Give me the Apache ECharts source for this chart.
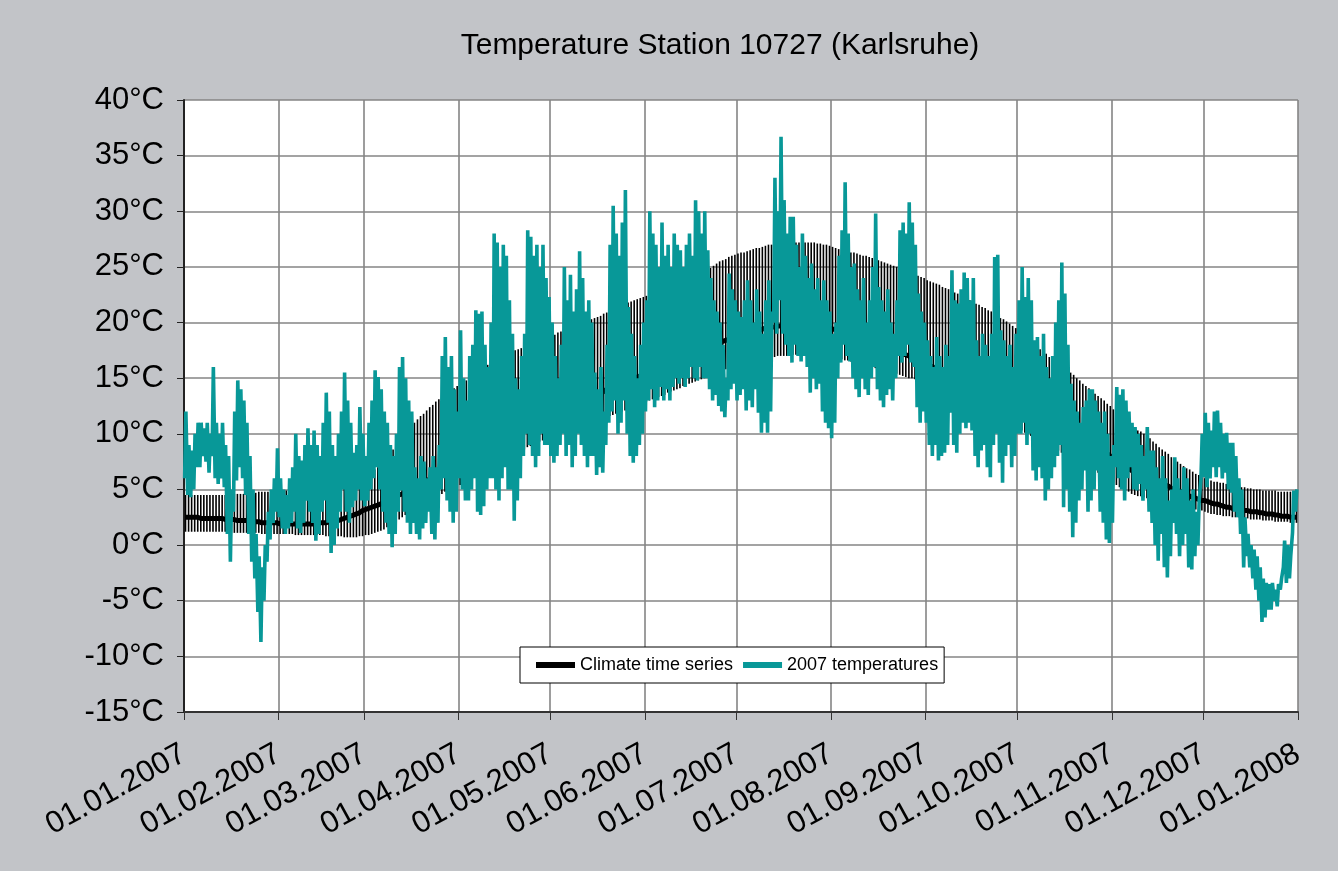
<!DOCTYPE html>
<html>
<head>
<meta charset="utf-8">
<script src="https://cdn.jsdelivr.net/npm/echarts@6/dist/echarts.min.js"></script>
<style>
html,body{margin:0;padding:0;background:#c2c4c8;}
#chart{width:1338px;height:871px;}
</style>
</head>
<body>
<div id="chart"></div>
<script>
// ---- tick labels (x axis: month starts, day index from 01.01.2007) ----
const monthLabels = ['01.01.2007','01.02.2007','01.03.2007','01.04.2007','01.05.2007','01.06.2007','01.07.2007','01.08.2007','01.09.2007','01.10.2007','01.11.2007','01.12.2007','01.01.2008'];
const monthStartDays = [0,31,59,90,120,151,181,212,243,273,304,334,365];

// ---- climate time series: daily mean, upper and lower bound (°C), day 0 = 01.01.2007 ----
const climateMean = [
2.5,2.5,2.5,2.5,2.5, 2.4,2.4,2.4,2.4,2.4, 2.4,2.4,2.4,2.3,2.3, 2.3,2.3,2.2,2.2,2.2,
2.2,2.1,2.1,2.1,2.1, 2.0,2.0,2.0,2.0,2.0, 2.0,1.9,1.9,1.9,1.9, 1.9,1.9,1.9,1.9,1.9,
1.9,1.9,1.9,2.0,2.0, 2.0,2.0,2.1,2.1,2.2, 2.2,2.3,2.4,2.5,2.6, 2.7,2.8,2.9,3.1,3.2,
3.3,3.4,3.5,3.6,3.7, 3.8,3.9,4.1,4.2,4.4, 4.5,4.6,4.8,4.9,5.1, 5.2,5.3,5.5,5.6,5.8,
5.9,6.0,6.1,6.3,6.4, 6.5,6.6,6.8,6.9,7.1, 7.2,7.5,7.7,8.0,8.2, 8.5,8.8,9.0,9.3,9.5,
9.8,9.9,10.0,10.2,10.3, 10.4,10.5,10.6,10.8,10.9, 11.0,11.1,11.2,11.2,11.3, 11.4,11.5,11.6,11.8,11.9,
12.0,12.1,12.2,12.4,12.5, 12.6,12.7,12.8,12.9,13.0, 13.1,13.2,13.3,13.4,13.5, 13.6,13.7,13.8,14.0,14.1,
14.2,14.3,14.4,14.6,14.7, 14.8,14.9,15.0,15.1,15.2, 15.3,15.4,15.5,15.7,15.8, 15.9,16.0,16.1,16.3,16.4,
16.5,16.6,16.7,16.8,16.9, 17.0,17.1,17.2,17.4,17.5, 17.6,17.7,17.8,18.0,18.1, 18.2,18.3,18.4,18.5,18.6,
18.7,18.8,18.9,18.9,19.0, 19.1,19.2,19.3,19.3,19.4, 19.5,19.5,19.6,19.6,19.7, 19.7,19.7,19.8,19.8,19.9,
19.9,19.9,19.9,19.9,19.9, 19.9,19.8,19.8,19.7,19.7, 19.6,19.5,19.4,19.4,19.3, 19.2,19.1,19.0,18.9,18.8,
18.7,18.6,18.5,18.4,18.3, 18.2,18.1,18.0,17.9,17.8, 17.7,17.6,17.5,17.4,17.3, 17.2,17.1,17.0,16.8,16.7,
16.6,16.5,16.4,16.2,16.1, 16.0,15.9,15.8,15.6,15.5, 15.4,15.3,15.2,15.0,14.9, 14.8,14.7,14.6,14.4,14.3,
14.2,14.1,13.9,13.8,13.6, 13.5,13.4,13.2,13.1,12.9, 12.8,12.6,12.5,12.3,12.2, 12.0,11.9,11.7,11.6,11.4,
11.3,11.2,11.0,10.9,10.7, 10.6,10.5,10.3,10.2,10.0, 9.9,9.8,9.7,9.5,9.4, 9.3,9.2,9.0,8.9,8.7,
8.6,8.4,8.2,8.0,7.8, 7.5,7.3,7.2,7.0,6.9, 6.7,6.6,6.4,6.2,6.1, 5.9,5.8,5.7,5.6,5.6,
5.5,5.4,5.3,5.1,5.0, 4.9,4.8,4.7,4.5,4.4, 4.3,4.2,4.1,4.0,4.0, 3.9,3.8,3.7,3.7,3.6,
3.5,3.4,3.4,3.3,3.3, 3.2,3.2,3.1,3.1,3.0, 3.0,3.0,2.9,2.9,2.8, 2.8,2.8,2.7,2.7,2.6,
2.6,2.6,2.5,2.5,2.5];
const climateUpper = [
4.5,4.5,4.5,4.5,4.5, 4.5,4.5,4.5,4.5,4.5, 4.5,4.5,4.5,4.5,4.6, 4.6,4.6,4.6,4.6,4.6,
4.6,4.6,4.7,4.7,4.8, 4.8,4.8,4.8,4.9,4.9, 4.9,4.9,4.9,4.9,5.0, 5.0,5.0,5.0,5.0,5.0,
5.0,5.0,5.0,5.0,5.1, 5.1,5.1,5.1,5.1,5.1, 5.1,5.3,5.5,5.7,5.9, 6.0,6.1,6.2,6.3,6.3,
6.4,6.6,6.8,7.0,7.2, 7.5,7.9,8.2,8.6,8.9, 9.3,9.6,10.0,10.3,10.7, 11.0,11.3,11.6,11.8,12.1,
12.4,12.6,12.9,13.1,13.4, 13.6,13.8,14.0,14.1,14.3, 14.5,14.7,14.8,15.0,15.1, 15.3,15.5,15.7,16.0,16.2,
16.4,16.5,16.7,16.8,17.0, 17.1,17.2,17.3,17.5,17.6, 17.7,17.8,17.9,18.0,18.1, 18.2,18.3,18.4,18.6,18.7,
18.8,18.9,19.1,19.2,19.4, 19.5,19.6,19.7,19.8,19.9, 20.0,20.1,20.2,20.3,20.4, 20.5,20.6,20.8,20.9,21.1,
21.2,21.3,21.5,21.6,21.7, 21.8,21.9,22.0,22.1,22.2, 22.3,22.4,22.5,22.7,22.8, 22.9,23.0,23.1,23.2,23.3,
23.4,23.5,23.6,23.7,23.8, 23.9,24.0,24.1,24.3,24.4, 24.5,24.7,24.9,25.1,25.3, 25.5,25.6,25.7,25.9,26.0,
26.1,26.2,26.3,26.3,26.4, 26.5,26.6,26.7,26.7,26.8, 26.9,27.0,27.0,27.1,27.1, 27.2,27.2,27.2,27.2,27.2,
27.2,27.2,27.2,27.2,27.2, 27.2,27.2,27.1,27.1,27.0, 27.0,26.9,26.8,26.7,26.6, 26.5,26.4,26.4,26.3,26.3,
26.2,26.1,26.0,26.0,25.9, 25.8,25.7,25.6,25.5,25.4, 25.3,25.2,25.1,25.0,24.9, 24.8,24.7,24.6,24.4,24.3,
24.2,24.1,24.0,23.8,23.7, 23.6,23.5,23.4,23.2,23.1, 23.0,22.9,22.7,22.6,22.4, 22.3,22.2,22.0,21.9,21.7,
21.6,21.4,21.3,21.1,21.0, 20.8,20.6,20.4,20.3,20.1, 19.9,19.7,19.5,19.2,19.0, 18.8,18.6,18.3,18.1,17.8,
17.6,17.4,17.2,16.9,16.7, 16.5,16.3,16.1,15.9,15.7, 15.5,15.3,15.0,14.8,14.5, 14.3,14.1,13.9,13.6,13.4,
13.2,13.0,12.7,12.5,12.2, 12.0,11.7,11.5,11.2,11.0, 10.7,10.5,10.3,10.2,10.0, 9.8,9.6,9.3,9.1,8.8,
8.6,8.4,8.2,7.9,7.7, 7.5,7.3,7.1,6.9,6.8, 6.6,6.4,6.3,6.1,6.0, 5.8,5.8,5.7,5.7,5.6,
5.6,5.5,5.5,5.4,5.4, 5.3,5.2,5.2,5.1,5.1, 5.0,5.0,5.0,4.9,4.9, 4.9,4.9,4.9,4.8,4.8,
4.8,4.8,4.8,4.8,4.8];
const climateLower = [
1.2,1.2,1.2,1.2,1.2, 1.2,1.2,1.2,1.2,1.2, 1.2,1.2,1.2,1.2,1.2, 1.1,1.1,1.1,1.1,1.1,
1.1,1.1,1.1,1.1,1.1, 1.0,1.0,1.0,1.0,1.0, 1.0,1.0,1.0,1.0,1.0, 1.0,0.9,0.9,0.9,0.9,
0.9,0.9,0.9,0.9,0.9, 0.9,0.8,0.8,0.8,0.8, 0.8,0.8,0.7,0.7,0.7, 0.7,0.7,0.8,0.8,0.9,
0.9,1.0,1.1,1.2,1.3, 1.4,1.6,1.8,1.9,2.1, 2.3,2.5,2.7,2.9,3.1, 3.3,3.4,3.6,3.7,3.9,
4.0,4.2,4.3,4.5,4.6, 4.8,4.9,5.0,5.2,5.3, 5.4,5.6,5.7,5.9,6.0, 6.2,6.3,6.5,6.6,6.8,
6.9,7.0,7.2,7.3,7.5, 7.6,7.8,8.0,8.1,8.3, 8.5,8.6,8.8,8.9,9.1, 9.2,9.3,9.4,9.5,9.6,
9.7,9.8,9.9,10.0,10.1, 10.2,10.3,10.5,10.6,10.7, 10.8,10.9,11.0,11.1,11.2, 11.3,11.4,11.5,11.5,11.6,
11.7,11.8,11.9,12.0,12.1, 12.2,12.3,12.4,12.6,12.7, 12.8,12.9,13.0,13.1,13.2, 13.3,13.4,13.5,13.7,13.8,
13.9,14.0,14.1,14.3,14.4, 14.5,14.6,14.7,14.8,14.9, 15.0,15.1,15.2,15.4,15.5, 15.6,15.7,15.8,15.9,16.0,
16.1,16.2,16.3,16.3,16.4, 16.5,16.6,16.6,16.7,16.7, 16.8,16.8,16.9,16.9,17.0, 17.0,17.0,17.0,17.1,17.1,
17.1,17.1,17.1,17.1,17.1, 17.1,17.1,17.1,17.0,17.0, 17.0,16.9,16.9,16.8,16.8, 16.7,16.6,16.6,16.5,16.5,
16.4,16.3,16.2,16.2,16.1, 16.0,15.9,15.8,15.8,15.7, 15.6,15.5,15.4,15.4,15.3, 15.2,15.1,15.0,15.0,14.9,
14.8,14.7,14.6,14.4,14.3, 14.2,14.1,14.0,13.8,13.7, 13.6,13.5,13.4,13.2,13.1, 13.0,12.9,12.8,12.6,12.5,
12.4,12.3,12.1,12.0,11.8, 11.7,11.5,11.4,11.2,11.1, 10.9,10.7,10.6,10.4,10.3, 10.1,10.0,9.8,9.7,9.5,
9.4,9.2,9.1,8.9,8.8, 8.6,8.5,8.3,8.2,8.0, 7.9,7.7,7.6,7.4,7.3, 7.1,7.0,6.8,6.7,6.5,
6.4,6.2,6.0,5.8,5.6, 5.4,5.2,5.1,4.9,4.8, 4.6,4.5,4.4,4.4,4.3, 4.2,4.1,4.1,4.0,4.0,
3.9,3.8,3.8,3.7,3.7, 3.6,3.5,3.5,3.4,3.4, 3.3,3.2,3.1,3.1,3.0, 2.9,2.8,2.8,2.7,2.7,
2.6,2.6,2.6,2.5,2.5, 2.5,2.5,2.4,2.4,2.3, 2.3,2.3,2.3,2.2,2.2, 2.2,2.2,2.1,2.1,2.1,
2.1,2.1,2.0,2.0,2.0];

// ---- 2007 temperatures: daily maximum and minimum (°C) ----
const dailyMax = [
12,9,8.5,10,11, 11,10.5,11,10,16, 11,10,11,9,8, 5,12,14.8,14,13,
11,8,5,1,-1, -2,0,3,5,6, 8.7,6,5,4.5,6, 7,10,8,7.6,9,
10.5,9,10.3,9,8, 11,13.7,12,9,8, 10,12,15.5,13,11, 8.3,9,12.4,10,8,
11,13,15.7,15.1,14, 12,11,9,8,10, 16,16.9,15,13,12, 7,6,8,7.5,6,
7,8,7,9,17, 18.7,16,17,14,12, 19.3,15,13,17,18, 21.1,20.8,21,18,16,
20,28,27.2,25,27, 26,22,19,15,14, 17,19,28.3,27.7,26, 27,25,27,24,22.3,
20,17,15,18,25, 22,24.3,21,23,26.4, 24,21,22,20,15.5, 14,16,12,18,27,
30.5,28,26,29,31.9, 21.4,19,17,15,18, 20,22,30,28,27, 25,29,26,27,25,
28,27,26.5,25,27, 28,26,31,30,28, 30,26.5,24,22,21, 20,18,15,24.4,23,
22,21,20.5,22,23.8, 22,20,23,21,19, 22,23.8,21,33,30, 36.7,31,28,29.5,29.5,
27,25,28,26,24, 25.3,23,24,22,23.8, 22,21,19,20,26, 28.3,32.6,28,25,25.3,
23,22,24,20,22, 25,29.8,23.2,22,21, 23,20,19,22,28.3, 29,28,30.8,29,27,
22.6,21,20,18.4,17, 16,18.7,17,16,18, 17,24.7,22,21.7,23, 24.5,24,22,24,18.4,
17,19,18,17,19, 25.9,26.1,19.3,18.4,17, 18,16,19,22,25, 22.3,24,22,18.4,18.7,
17,19,16,15,17, 20,22,25.4,22.6,18, 14.5,13,12,11,12.4, 13,14,14,13,12,
11,12,10,8,9, 14.2,13.5,14,13,12, 11,10.6,10,9,8, 10.6,8.5,8.5,7,6,
8,6,4,5,7.9, 6,5,7,6,4, 5,3,4,10,11.9, 11,10.3,12,12.1,11,
10,10.1,9.2,9.2,8, 6,5,2.5,1,0, -0.4,-1,-2,-3,-3.4, -3.5,-3.4,-4,-3.5,-3,
0.4,0,-1,4.9,5];
const dailyMin = [
6,4.5,4.3,5,7, 7,8,7.5,6.5,8, 6,5.5,6,5.2,1, -1.5,3,5.8,7,6,
4.5,1,-1.5,-3,-6, -8.7,-5,-1.5,0.5,2, 3,2.5,1.5,1,1.5, 2,3,1.5,1.1,2,
4,3,2,0.4,1, 3,4,2,-0.7,0, 1.5,3,5,3,2, 3.4,4,5,4,3.5,
4,5,6,7,5, 3,2,1,-0.2,1, 3,4.9,3,2,1, 2,1,0.5,1.5,2,
3,1,0.5,2,5, 6,4,3,2,3, 6,5,4,4,5, 6,3,2.7,3.5,5,
6,6,5,4,6, 7,5,5,2.2,4, 6,8,10,9,8, 7,8,10,9,9,
8,7.4,8,9,10, 8,9,7,8,10, 9,8,7,8,8, 6.3,7,6.5,9,11,
12,13,10,11,13, 10,8,7.4,8,9, 10,12,13,14,12.4, 13,14.2,13,14,13,
14.2,15,14.5,15,14.2, 15,16,15,14.8,16, 15,15,14,13,13.5, 12.5,12,11.5,13,14,
14.5,13,13.5,14,12.1, 13,12.4,14,11.9,10.1, 11,10.1,12,20,19, 22,19,18,17,16.4,
18,17,16.5,17,16, 13.7,15,14,14.5,12, 11,10.5,9.6,11,15, 16.4,18,17,16.5,15,
14,13.3,15,14,13.5, 15,16,14,13,12.4, 13.5,14,13,15,17, 16.4,17,18,16.4,16,
12.4,11,12,11,9, 8,9,7.6,8,8.3, 9,11.9,9,8.3,10, 11,10.5,11,10.3,8,
7,8.5,9,7,6.1, 9,10,7.4,5.6,8, 9,7,8,10,10, 11,9,10,6.7,5.8,
7,6,4,5,6, 7,8,9,3.4,5, 3,0.7,2,4,5, 6.7,3,4,5,6.7,
3,2,0.5,0.2,2, 7,6,5,4,6, 7,5,4.9,5.5,4, 5,3,2,0,-1.4,
1,-2,-2.9,-1,2, 1,-1,0,1,-2, -2.2,-1,0,6,6.1, 5.2,6,7,6.1,7,
6,6.5,5,4.7,3, 2.5,1,-2,-1,-2, -3,-4,-5,-6.9,-6.5, -5.8,-5.8,-5,-5.5,-4,
-2,-3.4,-3,1.1,3];

// ---- y axis ----
const yMin = -15, yMax = 40, yStep = 5;

const FONT = '"Liberation Sans", Arial, sans-serif';

// build series data from the arrays
const dayKeys = Array.from({length: 366}, (_, i) => String(i));
const meanData = climateMean.map((v, d) => [d + 0.5, v]);
const rangeData = climateMean.map((v, d) => [d + 0.5, climateLower[d], climateUpper[d]]);
const tempData = [];
dailyMax.forEach((mx, d) => {
  tempData.push([d + 0.2, dailyMin[d]]);
  tempData.push([d + 0.62, mx]);
});
const isMonthStart = (idx) => monthStartDays.indexOf(idx) >= 0;

const chart = echarts.init(document.getElementById('chart'), null, {renderer: 'canvas'});
chart.setOption({
  animation: false,
  backgroundColor: '#c2c4c8',
  title: {
    text: 'Temperature Station 10727 (Karlsruhe)',
    left: 715, top: 26, textAlign: 'center',
    textStyle: {fontFamily: FONT, fontSize: 30, fontWeight: 'normal', color: '#000'}
  },
  legend: {
    data: ['Climate time series', '2007 temperatures'],
    left: 520, top: 647,
    backgroundColor: '#fff', borderColor: '#000', borderWidth: 1, borderRadius: 0,
    padding: [9, 6, 9, 16],
    itemWidth: 39, itemHeight: 6, itemGap: 10,
    icon: 'rect',
    textStyle: {fontFamily: FONT, fontSize: 18, color: '#000'}
  },
  grid: {left: 184, right: 40, top: 100, bottom: 159, show: true, backgroundColor: '#fff', borderWidth: 0, outerBoundsMode: 'none'},
  xAxis: [
    {type: 'value', min: 0, max: 365, show: false, splitLine: {show: false}},
    {
      type: 'category', data: dayKeys, boundaryGap: false, position: 'bottom',
      axisLine: {lineStyle: {color: '#333', width: 2}},
      axisTick: {show: true, length: 8, interval: isMonthStart, lineStyle: {color: '#333', width: 1}},
      splitLine: {show: true, interval: isMonthStart, lineStyle: {color: '#858585', width: 1.6}},
      axisLabel: {
        interval: isMonthStart, rotate: 29, margin: 40,
        fontFamily: FONT, fontSize: 31, color: '#000',
        formatter: (val, idx) => { const k = monthStartDays.indexOf(Number(val)); return k >= 0 ? monthLabels[k] : ''; }
      }
    }
  ],
  yAxis: {
    type: 'value', min: yMin, max: yMax, interval: yStep,
    axisLine: {show: true, lineStyle: {color: '#222', width: 2}},
    axisTick: {show: true, length: 7, lineStyle: {color: '#222'}},
    splitLine: {show: true, lineStyle: {color: '#858585', width: 1.6}},
    axisLabel: {formatter: '{value}°C', fontFamily: FONT, fontSize: 31, color: '#000', margin: 20}
  },
  series: [
    {
      name: 'Climate range', type: 'custom', xAxisIndex: 0, data: rangeData,
      renderItem: (params, api) => {
        const x = api.value(0);
        const p1 = api.coord([x, api.value(1)]);
        const p2 = api.coord([x, api.value(2)]);
        return {type: 'line', shape: {x1: p1[0], y1: p1[1], x2: p2[0], y2: p2[1]}, style: {stroke: '#000', lineWidth: 1.6}};
      },
      silent: true
    },
    {
      name: 'Climate time series', type: 'line', xAxisIndex: 0, data: meanData,
      showSymbol: false, color: '#000', lineStyle: {color: '#000', width: 5}
    },
    {
      name: '2007 temperatures', type: 'line', xAxisIndex: 0, data: tempData,
      showSymbol: false, color: '#089898', lineStyle: {color: '#089898', width: 3.6}, sampling: null
    }
  ]
});
</script>
</body>
</html>
